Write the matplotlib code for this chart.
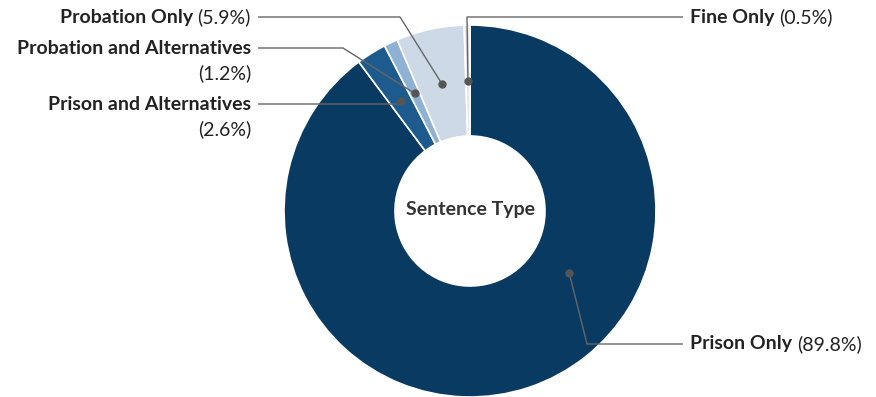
import matplotlib.pyplot as plt
import numpy as np

# sentence type shares (percent)
categories = ["Prison Only", "Prison and Alternatives", "Probation and Alternatives",
              "Probation Only", "Fine Only"]
shares = [89.8, 2.6, 1.2, 5.9, 0.5]
colors = ["#083a62", "#1d5b8f", "#8fb2d4", "#cdd9e7", "#e6e6e6"]

W, H = 876, 397
cx, cy, R, hole = 470, 186, 186, 75

plt.rcParams['font.family'] = ['Lato', 'DejaVu Sans']
fig = plt.figure(figsize=(W / 100, H / 100), dpi=100)
ax = fig.add_axes([0, 0, 1, 1])

ax.pie(shares, colors=colors, startangle=90, counterclock=False,
       center=(cx, cy), radius=R,
       wedgeprops=dict(width=R - hole, edgecolor='white', linewidth=1.2))
ax.set_xlim(0, W)
ax.set_ylim(0, H)
ax.set_aspect('equal')
ax.axis('off')

ax.text(cx, cy + 2, "Sentence Type", ha='center', va='center',
        fontsize=14, fontweight='bold', color='#333333')

# anchor point for each label: angle (deg clockwise from top) and radius
mid = np.cumsum(shares) - np.array(shares) / 2
anchor_angle = list(mid / 100 * 360)
anchor_r = [130] * len(shares)
anchor_angle[0] = 122   # big slice: dot placed toward the right-hand label
anchor_r[0] = 117

# leader path (elbow, end of line) and label placement
elbows = [(587, 344), (398, 104), (343, 48), (400, 17), (467, 17)]
ends = [(683, 344), (258, 104), (258, 48), (258, 17), (683, 17)]
sides = ['right', 'left', 'left', 'left', 'right']
wrap = [False, True, True, False, False]

fig.canvas.draw()
renderer = fig.canvas.get_renderer()
line_c = '#666666'
text_c = '#222222'
fs = 14.0
gap = 5

for i, name in enumerate(categories):
    a = np.deg2rad(anchor_angle[i])
    dx = cx + anchor_r[i] * np.sin(a)
    dy = cy + anchor_r[i] * np.cos(a)
    ex, ey = elbows[i]
    lx, ly = ends[i]
    ey, ly = H - ey, H - ly
    ax.plot([dx, ex, lx], [dy, ey, ly], color=line_c, lw=1, solid_capstyle='butt')
    ax.plot(dx, dy, 'o', color='#555555', ms=5)

    pct = f"({shares[i]}%)"
    if sides[i] == 'right':
        t = ax.text(lx + 7, ly, name, ha='left', va='center', fontsize=fs,
                    fontweight='bold', color=text_c)
        w = t.get_window_extent(renderer).width
        ax.text(lx + 7 + w + gap, ly, pct, ha='left', va='center', fontsize=fs,
                color=text_c)
    elif wrap[i]:
        ax.text(lx - 7, ly, name, ha='right', va='center', fontsize=fs,
                fontweight='bold', color=text_c)
        ax.text(lx - 7, ly - 25, pct, ha='right', va='center', fontsize=fs,
                color=text_c)
    else:
        t = ax.text(lx - 7, ly, pct, ha='right', va='center', fontsize=fs,
                    color=text_c)
        w = t.get_window_extent(renderer).width
        ax.text(lx - 7 - w - gap, ly, name, ha='right', va='center', fontsize=fs,
                fontweight='bold', color=text_c)

fig.savefig("out.png", dpi=100)
